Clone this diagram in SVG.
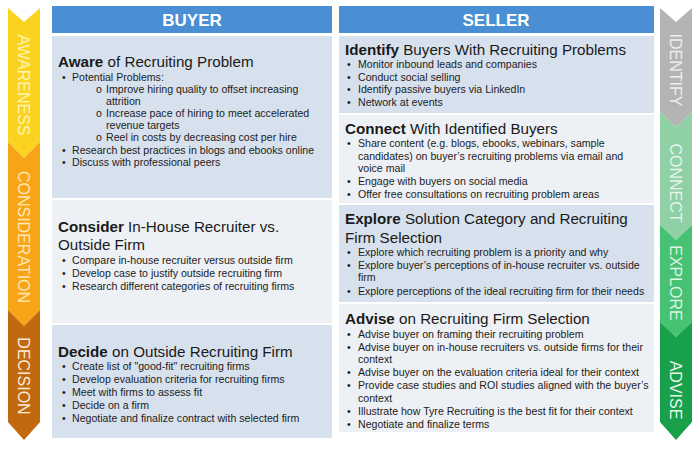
<svg xmlns="http://www.w3.org/2000/svg" width="700" height="449" viewBox="0 0 700 449">
<style>
.hdr{fill:#4a8fd3}
.hdrt{font-family:"Liberation Sans",Arial,sans-serif;font-size:17px;font-weight:bold;fill:#ffffff;text-anchor:middle}
.pb{fill:#d7e1ee}
.pg{fill:#edf0f5}
.ttl{font-family:"Liberation Sans",Arial,sans-serif;font-size:15.2px;fill:#1a1a1a}
.ttl tspan.b{font-weight:bold}
.bt{font-family:"Liberation Sans",Arial,sans-serif;font-size:10.6px;fill:#1c1c1c}
.stg{font-family:"Liberation Sans",Arial,sans-serif;font-size:16px;text-anchor:middle}
</style>
<rect width="700" height="449" fill="#ffffff"/>

<g id="stage-awareness">
<path d="M8,8 L24,22 L40,8 L40,142 L24,158 L8,142 Z" fill="#fad21f"/>
<text class="stg" fill="#fff5b0" transform="translate(24,85) rotate(90)" x="0" y="5.7">AWARENESS</text>
</g>
<g id="stage-consideration">
<path d="M8,142 L24,158 L40,142 L40,310 L24,326 L8,310 Z" fill="#f7a517"/>
<text class="stg" fill="#ffe6b3" transform="translate(24,237) rotate(90)" x="0" y="5.7">CONSIDERATION</text>
</g>
<g id="stage-decision">
<path d="M8,310 L24,326 L40,310 L40,422 L24,440 L8,422 Z" fill="#c2680f"/>
<text class="stg" fill="#fcebd6" transform="translate(24,376) rotate(90)" x="0" y="5.7">DECISION</text>
</g>

<g id="stage-identify">
<path d="M660,8 L676,22 L692,8 L692,112 L676,127 L660,112 Z" fill="#b4b4b4"/>
<text class="stg" fill="#eeeeee" transform="translate(676,70) rotate(90)" x="0" y="5.7">IDENTIFY</text>
</g>
<g id="stage-connect">
<path d="M660,112 L676,127 L692,112 L692,225 L676,240 L660,225 Z" fill="#8fd0a5"/>
<text class="stg" fill="#e6f5eb" transform="translate(676,183) rotate(90)" x="0" y="5.7">CONNECT</text>
</g>
<g id="stage-explore">
<path d="M660,225 L676,240 L692,225 L692,322 L676,337 L660,322 Z" fill="#47c172"/>
<text class="stg" fill="#dcf4e4" transform="translate(676,283) rotate(90)" x="0" y="5.7">EXPLORE</text>
</g>
<g id="stage-advise">
<path d="M660,322 L676,337 L692,322 L692,422 L676,440 L660,422 Z" fill="#18a04b"/>
<text class="stg" fill="#e6f6ec" transform="translate(676,390) rotate(90)" x="0" y="5.7">ADVISE</text>
</g>

<g id="header-buyer">
<rect class="hdr" x="52" y="6" width="280" height="27"/>
<text class="hdrt" x="192" y="26">BUYER</text>
</g>
<g id="header-seller">
<rect class="hdr" x="339" y="6" width="315" height="27"/>
<text class="hdrt" x="496" y="26">SELLER</text>
</g>

<g id="buyer-aware">
<rect class="pb" x="52" y="36" width="280" height="162"/>
<text class="ttl" x="58" y="67"><tspan class="b">Aware</tspan> of Recruiting Problem</text>
<g class="bt">
<text x="62" y="81">•</text><text x="72" y="81">Potential Problems:</text>
<text x="96" y="93">o</text><text x="106" y="93">Improve hiring quality to offset increasing</text>
<text x="106" y="105">attrition</text>
<text x="96" y="117">o</text><text x="106" y="117">Increase pace of hiring to meet accelerated</text>
<text x="106" y="129">revenue targets</text>
<text x="96" y="141">o</text><text x="106" y="141">Reel in costs by decreasing cost per hire</text>
<text x="62" y="154">•</text><text x="72" y="154">Research best practices in blogs and ebooks online</text>
<text x="62" y="166">•</text><text x="72" y="166">Discuss with professional peers</text>
</g>
</g>

<g id="buyer-consider">
<rect class="pg" x="52" y="200" width="280" height="123"/>
<text class="ttl" x="58" y="232"><tspan class="b">Consider</tspan> In-House Recruiter vs.</text>
<text class="ttl" x="58" y="250">Outside Firm</text>
<g class="bt">
<text x="62" y="264">•</text><text x="72" y="264">Compare in-house recruiter versus outside firm</text>
<text x="62" y="277">•</text><text x="72" y="277">Develop case to justify outside recruiting firm</text>
<text x="62" y="290">•</text><text x="72" y="290">Research different categories of recruiting firms</text>
</g>
</g>

<g id="buyer-decide">
<rect class="pb" x="52" y="325" width="280" height="113"/>
<text class="ttl" x="58" y="357"><tspan class="b">Decide</tspan> on Outside Recruiting Firm</text>
<g class="bt">
<text x="62" y="370">•</text><text x="72" y="370">Create list of "good-fit" recruiting firms</text>
<text x="62" y="383">•</text><text x="72" y="383">Develop evaluation criteria for recruiting firms</text>
<text x="62" y="396">•</text><text x="72" y="396">Meet with firms to assess fit</text>
<text x="62" y="409">•</text><text x="72" y="409">Decide on a firm</text>
<text x="62" y="422">•</text><text x="72" y="422">Negotiate and finalize contract with selected firm</text>
</g>
</g>

<g id="seller-identify">
<rect class="pb" x="339" y="36" width="315" height="77"/>
<text class="ttl" x="345" y="55"><tspan class="b">Identify</tspan> Buyers With Recruiting Problems</text>
<g class="bt">
<text x="347" y="68">•</text><text x="358" y="68">Monitor inbound leads and companies</text>
<text x="347" y="81">•</text><text x="358" y="81">Conduct social selling</text>
<text x="347" y="93">•</text><text x="358" y="93">Identify passive buyers via LinkedIn</text>
<text x="347" y="106">•</text><text x="358" y="106">Network at events</text>
</g>
</g>

<g id="seller-connect">
<rect class="pg" x="339" y="115" width="315" height="88"/>
<text class="ttl" x="345" y="134"><tspan class="b">Connect</tspan> With Identified Buyers</text>
<g class="bt">
<text x="347" y="147">•</text><text x="358" y="147">Share content (e.g. blogs, ebooks, webinars, sample</text>
<text x="358" y="160">candidates) on buyer’s recruiting problems via email  and</text>
<text x="358" y="172">voice mail</text>
<text x="347" y="185">•</text><text x="358" y="185">Engage with buyers on social media</text>
<text x="347" y="198">•</text><text x="358" y="198">Offer free consultations on recruiting problem areas</text>
</g>
</g>

<g id="seller-explore">
<rect class="pb" x="339" y="205" width="315" height="97"/>
<text class="ttl" x="345" y="224"><tspan class="b">Explore</tspan> Solution Category and Recruiting</text>
<text class="ttl" x="345" y="243">Firm Selection</text>
<g class="bt">
<text x="347" y="256">•</text><text x="358" y="256">Explore which recruiting problem is a priority and why</text>
<text x="347" y="269">•</text><text x="358" y="269">Explore buyer’s perceptions of in-house recruiter vs. outside</text>
<text x="358" y="281">firm</text>
<text x="347" y="295">•</text><text x="358" y="295">Explore perceptions of the ideal recruiting firm for their needs</text>
</g>
</g>

<g id="seller-advise">
<rect class="pg" x="339" y="304" width="315" height="128"/>
<text class="ttl" x="345" y="324"><tspan class="b">Advise</tspan> on Recruiting Firm Selection</text>
<g class="bt">
<text x="347" y="338">•</text><text x="358" y="338">Advise buyer on framing their recruiting problem</text>
<text x="347" y="351">•</text><text x="358" y="351">Advise buyer on in-house recruiters vs. outside firms for their</text>
<text x="358" y="363">context</text>
<text x="347" y="376">•</text><text x="358" y="376">Advise buyer on the evaluation criteria ideal for their context</text>
<text x="347" y="389">•</text><text x="358" y="389">Provide case studies and ROI studies aligned with the buyer’s</text>
<text x="358" y="402">context</text>
<text x="347" y="415">•</text><text x="358" y="415">Illustrate how Tyre Recruiting is the best fit for their context</text>
<text x="347" y="428">•</text><text x="358" y="428">Negotiate and finalize terms</text>
</g>
</g>

<g id="connectors"></g>
</svg>
